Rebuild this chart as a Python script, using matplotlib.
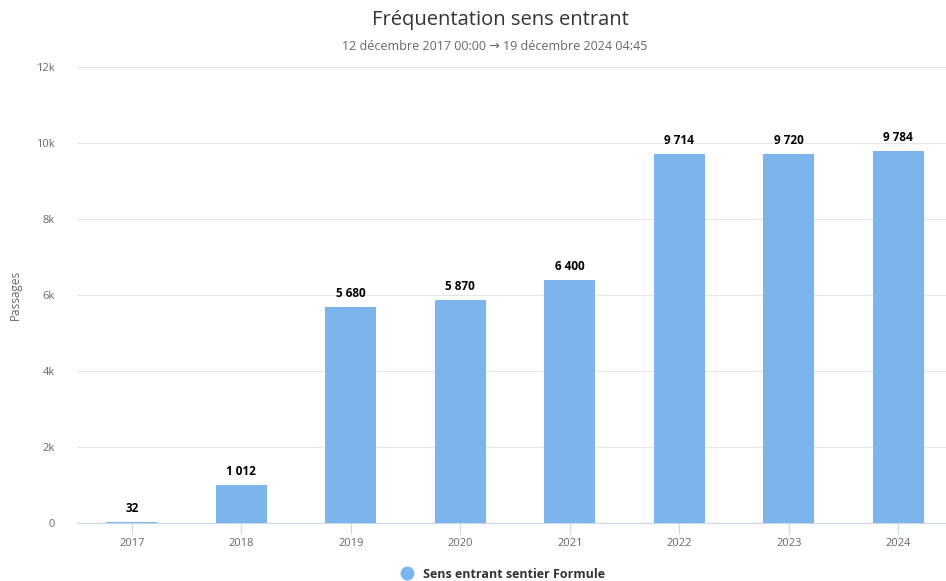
import matplotlib.pyplot as plt
from matplotlib.lines import Line2D

plt.rcParams["font.family"] = ["Open Sans", "DejaVu Sans"]

# Data
annees = ["2017", "2018", "2019", "2020", "2021", "2022", "2023", "2024"]
passages = [32, 1012, 5680, 5870, 6400, 9714, 9720, 9784]
y_ticks = [0, 2000, 4000, 6000, 8000, 10000, 12000]
y_tick_labels = ["0", "2k", "4k", "6k", "8k", "10k", "12k"]

W, H = 946, 581
fig = plt.figure(figsize=(W / 100, H / 100), dpi=100)

# plot area in pixels: x 77..953, y 67..523
left, right, top, bottom = 77, 953, 67, 523
ax = fig.add_axes([left / W, 1 - bottom / H, (right - left) / W, (bottom - top) / H])

x = list(range(len(annees)))
bars = ax.bar(x, passages, width=0.47, color="#7cb5ec", zorder=3)

ax.set_xlim(-0.5, len(annees) - 0.5)
ax.set_ylim(0, 12000)

ax.set_yticks(y_ticks)
ax.set_yticklabels(y_tick_labels, color="#666666", fontsize=8)
ax.yaxis.grid(True, color="#e6e6e6", linewidth=0.8, zorder=0)
ax.tick_params(axis="y", length=0, pad=16)

ax.set_xticks(x)
ax.set_xticklabels(annees, color="#666666", fontsize=8)
ax.tick_params(axis="x", length=8, color="#ccd6eb", width=0.8, pad=3)

for side in ["top", "right", "left"]:
    ax.spines[side].set_visible(False)
ax.spines["bottom"].set_color("#ccd6eb")
ax.spines["bottom"].set_linewidth(0.8)

ax.set_ylabel("Passages", color="#666666", fontsize=8.5)
ax.yaxis.set_label_coords((22 - left) / (right - left), 0.5)

# Value labels
for rect, val in zip(bars, passages):
    txt = f"{val:,}".replace(",", " ")
    ax.annotate(
        txt,
        (rect.get_x() + rect.get_width() / 2, rect.get_height()),
        xytext=(0, 5),
        textcoords="offset points",
        ha="center",
        va="bottom",
        fontsize=8.5,
        fontweight="bold",
        color="black",
    )

# Title and subtitle
fig.text(500 / W, 1 - 20 / H, "Fréquentation sens entrant", ha="center", va="center",
         fontsize=14.5, color="#333333")
fig.text(495 / W, 1 - 47 / H, "12 décembre 2017 00:00 → 19 décembre 2024 04:45",
         ha="center", va="center", fontsize=9, color="#666666")

# Legend
handle = Line2D([], [], marker="o", linestyle="none", markersize=9,
                markerfacecolor="#7cb5ec", markeredgecolor="#7cb5ec")
leg = fig.legend([handle], ["Sens entrant sentier Formule"], loc="center",
                 bbox_to_anchor=(500 / W, 1 - 574 / H), frameon=False,
                 handletextpad=0.3, prop={"size": 9, "weight": "bold"})
for t in leg.get_texts():
    t.set_color("#333333")

fig.savefig("out.png", dpi=100)
